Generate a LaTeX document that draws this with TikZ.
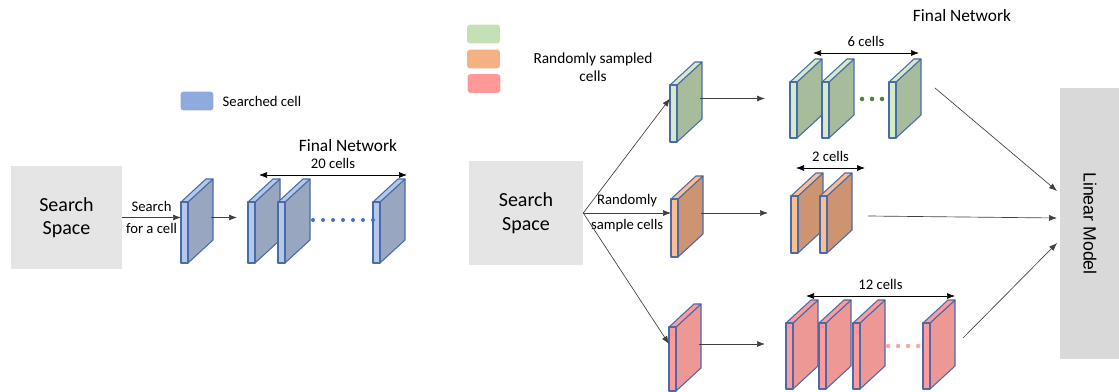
\documentclass[tikz,border=0pt]{standalone}
\usepackage{fontspec}
\setmainfont{Carlito}
\newfontfamily\modelfont{Liberation Sans}
\usetikzlibrary{arrows.meta}

\definecolor{cellborder}{HTML}{4A6BAA}
\definecolor{bluefront}{HTML}{B4C8EA}
\definecolor{blueside}{HTML}{98A6C0}
\definecolor{bluekey}{HTML}{8FAADC}
\definecolor{bluedot}{HTML}{4472C4}
\definecolor{greenfront}{HTML}{D5EBC8}
\definecolor{greenside}{HTML}{A7BC9B}
\definecolor{greenkey}{HTML}{C5E0B4}
\definecolor{greendot}{HTML}{548235}
\definecolor{orangefront}{HTML}{FBBF8F}
\definecolor{orangeside}{HTML}{CC9470}
\definecolor{orangekey}{HTML}{F4B183}
\definecolor{redfront}{HTML}{FF9B9B}
\definecolor{redside}{HTML}{EE9896}
\definecolor{redkey}{HTML}{FF9999}
\definecolor{reddot}{HTML}{FFA3A3}
\definecolor{spacegray}{HTML}{E5E5E5}
\definecolor{modelgray}{HTML}{D9D9D9}

\tikzset{
  spacebox/.style = {fill=spacegray, align=center, inner sep=0pt,
    font=\fontsize{15}{17.5}\selectfont},
  keybox/.style = {rounded corners=2pt, minimum width=24.5pt, minimum height=14pt, inner sep=0pt},
  note/.style = {align=center, font=\fontsize{11}{14}\selectfont},
  heading/.style = {font=\fontsize{13}{15}\selectfont},
  link/.style = {draw=black!75, line width=0.5pt, -{Latex[length=6pt,width=4.5pt]}},
  span/.style = {draw=black, line width=0.5pt,
    {Latex[length=6pt,width=4.5pt]}-{Latex[length=6pt,width=4.5pt]}},
  face/.style = {draw=cellborder, line width=0.8pt, line join=round},
  pics/cell/.style args = {#1/#2/#3}{code = {
    \filldraw[face, fill=#2] (7,0) -- (32,-23) -- (32,#3-23) -- (7,#3) -- cycle;
    \filldraw[face, fill=#1] (0,0) -- (25,-23) -- (32,-23) -- (7,0) -- cycle;
    \filldraw[face, fill=#1] (0,0) rectangle (7,#3);
    \coordinate (-in) at (0,#3/2-15);
    \coordinate (-out) at (30,#3/2-15);
  }}
}

\begin{document}
\begin{tikzpicture}[x=0.75pt, y=-0.75pt]
\useasboundingbox (0,0) rectangle (1119,392);

% one cell searched, then stacked
\node[spacebox, minimum width=83pt, minimum height=77pt] (ss1) at (66.5,217.5) {Search\\Space};
\node[keybox, fill=bluekey] (k0) at (197,101) {};
\node[note, anchor=west] (k0t) at (218,101) {Searched cell};
\pic (s0) at (181,202) {cell=bluefront/blueside/61};
\pic (f1) at (248,202) {cell=bluefront/blueside/61};
\pic (f2) at (278,202) {cell=bluefront/blueside/61};
\pic (f3) at (373,202) {cell=bluefront/blueside/61};
\foreach \x in {313,323,...,373}
  \fill[bluedot] (\x,220) circle (1.5pt);
\coordinate (fin) at (237,217.5);
\draw[link] (ss1) -- node[note, above=1pt]{Search} node[note, below=1pt]{for a cell} (s0-in);
\draw[link] (s0-out) -- (fin);
\node[heading] (fn1) at (348,146) {Final Network};
\coordinate (a20) at (259,175);
\coordinate (b20) at (407,175);
\draw[span] (a20) -- node[note, above=1pt]{20 cells} (b20);

% random cells, three networks, linear model
\node[keybox, fill=greenkey] (kg) at (483.5,34) {};
\node[keybox, fill=orangekey] (ko) at (483.5,59) {};
\node[keybox, fill=redkey] (kr) at (484,83.5) {};
\node[note, font=\fontsize{11.5}{13.5}\selectfont] (krt) at (593,67) {Randomly sampled\\cells};
\node[spacebox, minimum width=85.5pt, minimum height=78pt] (ss2) at (526,213) {Search\\Space};

\pic (g0) at (670,85) {cell=greenfront/greenside/57};
\pic (o0) at (671,199) {cell=orangefront/orangeside/58};
\pic (r0) at (669,327) {cell=redfront/redside/64};
\draw[link] (ss2.east) -- (g0-in);
\draw[link] (ss2.east) -- node[note, above=1pt]{Randomly} node[note, below=1pt]{sample cells} (o0-in);
\draw[link] (ss2.east) -- (r0-in);

\pic (g1) at (790,82) {cell=greenfront/greenside/56};
\pic (g2) at (822,82) {cell=greenfront/greenside/56};
\pic (g3) at (889,82) {cell=greenfront/greenside/56};
\foreach \x in {862,872,882}
  \fill[greendot] (\x,99) circle (1.7pt);
\pic (o1) at (791,196) {cell=orangefront/orangeside/57};
\pic (o2) at (820,196) {cell=orangefront/orangeside/57};
\pic (r1) at (786,323) {cell=redfront/redside/66};
\pic (r2) at (819,323) {cell=redfront/redside/66};
\pic (r3) at (853,323) {cell=redfront/redside/66};
\pic (r4) at (923,323) {cell=redfront/redside/66};
\foreach \x in {888,898,908,918}
  \fill[reddot] (\x,346) circle (1.7pt);

\coordinate (gin) at (765,98.5);
\coordinate (oin) at (768,213);
\coordinate (rin) at (765,344);
\draw[link] (g0-out) -- (gin);
\draw[link] (o0-out) -- (oin);
\draw[link] (r0-out) -- (rin);

\node[heading] (fn2) at (962,16) {Final Network};
\coordinate (a6) at (813,53);
\coordinate (b6) at (919,53);
\draw[span] (a6) -- node[note, above=1pt]{6 cells} (b6);
\coordinate (a2) at (796,168);
\coordinate (b2) at (865,168);
\draw[span] (a2) -- node[note, above=1pt]{2 cells} (b2);
\coordinate (a12) at (806,296);
\coordinate (b12) at (955,296);
\draw[span] (a12) -- node[note, above=1pt]{12 cells} (b12);

\node[fill=modelgray, rotate=-90, minimum width=203pt, minimum height=45pt,
  font=\modelfont\fontsize{13.3}{15}\selectfont] (lm) at (1090,223.5) {Linear Model};
\coordinate (gout) at (935,88);
\coordinate (oout) at (868,216);
\coordinate (rout) at (963,338);
\coordinate (lmg) at (1057,191);
\coordinate (lmo) at (1057,218);
\coordinate (lmr) at (1057,243);
\draw[link] (gout) -- (lmg);
\draw[link] (oout) -- (lmo);
\draw[link] (rout) -- (lmr);
\end{tikzpicture}
\end{document}
